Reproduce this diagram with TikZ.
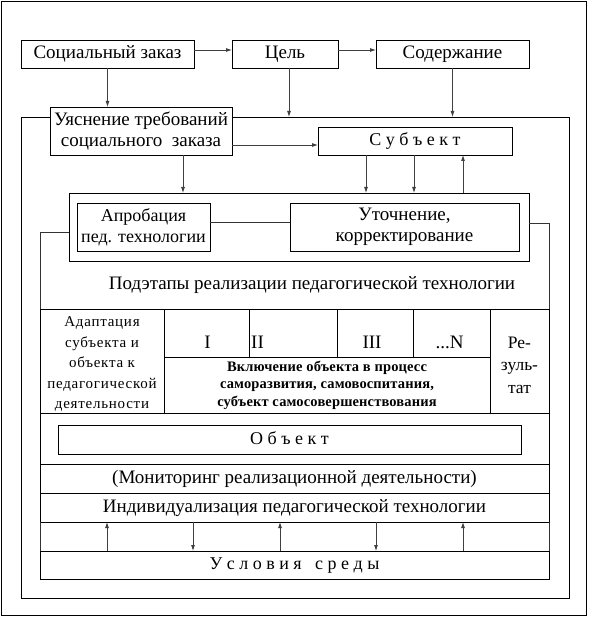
\documentclass[tikz,border=0pt]{standalone}
\usepackage{fontspec}
\setmainfont{Liberation Serif}
\newfontfamily\thinfont[LetterSpace=5]{Liberation Serif}
\newfontfamily\widebold[LetterSpace=1]{Liberation Serif}
\usetikzlibrary{calc,arrows.meta}

\begin{document}
\begin{tikzpicture}[x=1pt, y=-1pt,
    box/.style={draw, fill=white, line width=0.9pt, anchor=north west, inner sep=0pt, outer sep=0pt, align=center, font=\fontsize{19}{21}\selectfont},
    one/.style={text height=13, text depth=4},
    ramka/.style={draw, line width=0.9pt, anchor=north west, inner sep=0pt, outer sep=0pt},
    lbl/.style={inner sep=0pt, align=center, font=\fontsize{19}{21}\selectfont},
    line/.style={line width=0.9pt, draw=black!80},
    arr/.style={-{Latex[length=6pt,width=4pt]}, line width=0.8pt, draw=black!75}
]
    \useasboundingbox (0,0) rectangle (588,617);

    % Frames
    \node[ramka, minimum width=585, minimum height=614] (outer) at (1.5,1.5) {};
    \node[ramka, minimum width=548, minimum height=481] (inner) at (21,117) {};

    % Top row
    \node[box, one, minimum width=173, minimum height=28] (zakaz) at (21,40) {Социальный заказ};
    \node[box, one, minimum width=106, minimum height=28] (cel) at (232,40) {Цель};
    \node[box, one, minimum width=153, minimum height=28] (soder) at (376,40) {Содержание};

    \node[box, minimum width=182, minimum height=48] (yasn) at (50,107) {Уяснение требований\\социального\ \ заказа};
    \node[box, one, minimum width=194, minimum height=28, font=\fontsize{18}{21}\selectfont] (subj) at (318,127) {С у б ъ е к т};

    \draw[arr] ($(zakaz.east)+(0,-4)$) -- ($(cel.west)+(0,-4)$);
    \draw[arr] ($(cel.east)+(0,-4)$) -- ($(soder.west)+(0,-4)$);
    \draw[arr] (zakaz.south) -- (zakaz.south |- yasn.north);
    \coordinate (c1) at ($(cel.south)+(4,0)$);
    \draw[arr] (c1) -- (c1 |- inner.north);
    \draw[arr] (soder.south) -- (soder.south |- inner.north);
    \coordinate (y1) at ($(subj.west)+(0,4)$);
    \draw[arr] (yasn.east |- y1) -- (y1);

    % Aprobation
    \node[box, minimum width=460, minimum height=68] (apro) at (69,193) {};
    \node[box, minimum width=133, minimum height=48, font=\fontsize{18}{21}\selectfont] (aprob) at (77,203) {Апробация\\пед. технологии};
    \node[box, minimum width=229, minimum height=48] (utoch) at (290,203) {Уточнение,\\корректирование};
    \draw[line] ($(aprob.east)+(0,-5)$) -- ($(utoch.west)+(0,-5)$);

    \coordinate (y2) at ($(yasn.south)+(42,0)$);
    \coordinate (s1) at ($(subj.south)+(-49,0)$);
    \coordinate (s2) at ($(subj.south)+(-1,0)$);
    \coordinate (s3) at ($(subj.south)+(48,0)$);
    \draw[arr] (y2) -- (y2 |- apro.north);
    \draw[arr] (s1) -- (s1 |- apro.north);
    \draw[arr] (s2) -- (s2 |- apro.north);
    \draw[arr] (s3 |- apro.north) -- (s3);

    % Stages
    \node[lbl] (podetap) at (312,285) {Подэтапы реализации педагогической технологии};

    \node[box, minimum width=124, minimum height=104] (adapt) at (40,309) {};
    \node[lbl, font=\thinfont\fontsize{15}{20.5}\selectfont] (adapttxt) at ($(adapt.center)+(0,3)$)
        {Адаптация\\субъекта и\\объекта к\\педагогической\\деятельности};
    \node[box, minimum width=85, minimum height=48] (st1) at (164,309) {};
    \node[box, minimum width=88, minimum height=48] (st2) at (249,309) {};
    \node[box, minimum width=76, minimum height=48] (st3) at (337,309) {};
    \node[box, minimum width=77, minimum height=48] (stn) at (413,309) {};
    \node[lbl] (n1) at ($(st1.center)+(1,9)$) {I};
    \node[lbl, anchor=west] (n2) at ($(st2.west)+(2,9)$) {II};
    \node[lbl] (n3) at ($(st3.center)+(-3,9)$) {III};
    \node[lbl] (nn) at ($(stn.center)+(-2,9)$) {...N};
    \node[box, minimum width=326, minimum height=56, font=\widebold\bfseries\fontsize{14.5}{17.5}\selectfont] (vkl) at (164,357)
        {Включение объекта в процесс\\саморазвития, самовоспитания,\\субъект самосовершенствования};
    \node[box, minimum width=59, minimum height=104] (rez) at (490,309) {};
    \node[lbl, font=\fontsize{17.5}{22.5}\selectfont] (reztxt) at ($(rez.center)+(0,4)$) {Ре-\\зуль-\\тат};

    \coordinate (lbl) at (40,232);
    \coordinate (lbr) at (549,223);
    \draw[line] (apro.west |- lbl) -- (lbl) -- (lbl |- adapt.north);
    \draw[line] (apro.east |- lbr) -- (lbr) -- (lbr |- rez.north);

    % Lower rows
    \node[box, minimum width=509, minimum height=51] (objrow) at (40,413) {};
    \node[box, one, minimum width=463, minimum height=29, font=\fontsize{18}{21}\selectfont] (obj) at (58,425) {О б ъ е к т};
    \node[box, one, minimum width=509, minimum height=29] (monit) at (40,464) {(Мониторинг реализационной деятельности)};
    \node[box, one, minimum width=509, minimum height=29] (indiv) at (40,493) {Индивидуализация педагогической технологии};
    \node[box, one, minimum width=509, minimum height=28, font=\fontsize{18}{21}\selectfont] (usl) at (40,551) {У с л о в и я\ \ \ с р е д ы};
    \draw[line] (indiv.south west) -- (usl.north west);
    \draw[line] (indiv.south east) -- (usl.north east);

    \foreach \dx in {67,240,423}
        \draw[arr] ($(usl.north west)+(\dx,0)$) -- ($(indiv.south west)+(\dx,0)$);
    \foreach \dx in {153,336}
        \draw[arr] ($(indiv.south west)+(\dx,0)$) -- ($(usl.north west)+(\dx,0)$);
\end{tikzpicture}
\end{document}
